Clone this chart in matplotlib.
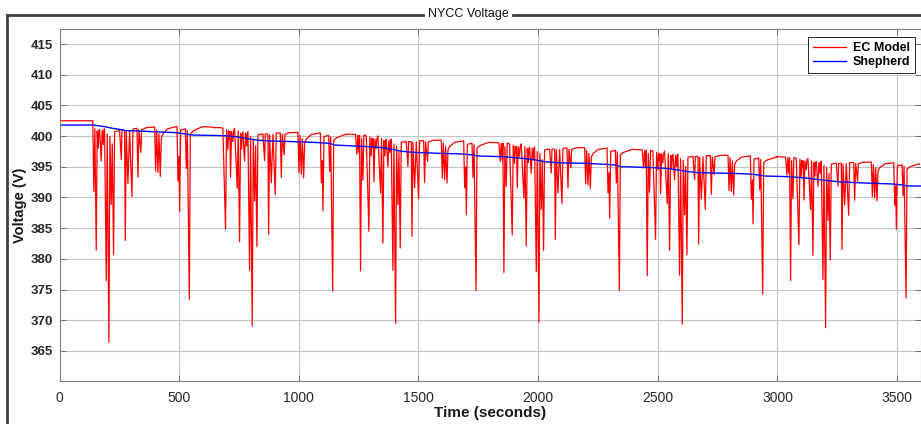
import matplotlib
matplotlib.use('Agg')
import matplotlib.pyplot as plt
from matplotlib.lines import Line2D

plt.rcParams['font.family'] = ['Liberation Sans', 'DejaVu Sans']

# one NYCC drive cycle: time offset (s) and drop below the resting voltage (V)
cycle_offset = [0, 39, 44.6, 48.8, 53, 55.8, 60, 64.2, 69.7, 73.9, 83.7, 94.8, 99, 104.6, 107.4,
                110.2, 113, 115.8, 120, 125, 128, 132.5, 143.7, 147.8, 153.4, 157.6, 162, 164.5,
                167.4, 174.3, 178.5, 183, 185.5, 188.3, 195.3, 199.4, 206.4, 210.6, 216.2, 220.4,
                225.9, 230.1, 251, 258, 261, 272, 274.8, 279, 286, 292.9, 302.6, 306.8, 323.6,
                327.8, 331.9, 340, 343, 362.6, 397.5, 401.7, 405.9, 411.4, 415.6, 421.2, 425.4,
                432.4, 453.3, 491, 495.1, 499.3, 502.1, 506.3, 525.8, 530, 534.2, 542.5, 546.7,
                557.9, 585.8, 599]
cycle_drop = [0, 0, 3.05, 0.07, 2.76, 0.05, 21.1, 0.55, 7.04, 0, 0.1, 14.9, 0.25, 3.2, 0.4,
              1.6, 0.5, 7.2, 0.5, 2.0, 0.5, 0, 8.8, 0.4, 16.6, 0.7, 3.0, 0.6,
              0.5, 4.7, 0.6, 2.5, 0.6, 0.4, 20.7, 1.1, 28.9, 1.4, 10.5, 2.4,
              17.2, 0.8, 0.6, 4.5, 0.6, 0.6, 15.3, 0.7, 7.7, 0.6, 9.4, 0.4, 0.3,
              6.8, 0.5, 3.5, 0.5, 0.2, 0.1, 6.0, 0.5, 6.2, 1.0, 6.7, 1.6,
              1.0, 0.3, 0, 7.3, 4.0, 11.4, 0.5, 0.3, 5.6, 0.5, 23.1, 1.0,
              0.6, 0.15, 0]

# the six repetitions
cycle_start = [0, 599, 1198, 1797, 2396, 2995]
top_start = [401.75, 401.55, 400.34, 398.98, 397.84, 396.65]
top_end = [401.53, 400.29, 398.98, 397.84, 396.54, 395.46]
depth = [1.22, 1.11, 1.05, 1.0, 0.97, 0.95]
first_dip = [140, 88, 0, 0, 0, 0]

idle_t = [0, 139]
idle_v = [402.5, 402.5]

shep_t = [0, 139, 188, 223, 251, 279, 335, 391, 488, 530, 551,
          689, 738, 793, 821, 877, 989, 1086, 1128, 1149,
          1288, 1336, 1392, 1420, 1476, 1587, 1685, 1727, 1748,
          1851, 1934, 1990, 2025, 2074, 2199, 2283, 2325, 2346,
          2449, 2532, 2588, 2623, 2672, 2797, 2881, 2923, 2944,
          3048, 3131, 3187, 3222, 3271, 3396, 3480, 3522, 3543, 3600]
shep_v = [401.81, 401.81, 401.54, 401.26, 401.1, 400.88, 400.83, 400.72, 400.56, 400.34, 400.18,
          400.07, 399.9, 399.53, 399.36, 399.2, 399.09, 398.93, 398.82, 398.55,
          398.28, 398.17, 397.84, 397.57, 397.36, 397.19, 397.08, 396.92, 396.76,
          396.65, 396.38, 396.11, 395.84, 395.67, 395.56, 395.4, 395.29, 395.02,
          394.91, 394.75, 394.48, 394.21, 394.04, 393.94, 393.83, 393.66, 393.5,
          393.39, 393.12, 392.85, 392.69, 392.52, 392.31, 392.2, 392.03, 391.87, 391.87]

ec_t = list(idle_t)
ec_v = list(idle_v)
for k in range(len(cycle_start)):
    for off, drop in zip(cycle_offset, cycle_drop):
        if k == 0 and off < first_dip[0]:
            continue
        if off < first_dip[k] and drop > 0.3:
            continue
        top = top_start[k] + (top_end[k] - top_start[k]) * off / 599
        ec_t.append(cycle_start[k] + off)
        ec_v.append(top - drop * depth[k])

W, H = 921, 424
fig = plt.figure(figsize=(W / 100, H / 100), dpi=100)
ax = fig.add_axes([59.5 / W, 1 - 381 / H, (W - 59.5) / W, (381 - 29) / H])

ax.plot(ec_t, ec_v, color='#ff0000', lw=0.9, label='EC Model')
ax.plot(shep_t, shep_v, color='#0000ff', lw=1.0, label='Shepherd')

ax.set_xlim(0, 3600)
ax.set_ylim(360.1, 417.45)
ax.set_xticks(range(0, 3501, 500))
ax.set_yticks(range(365, 416, 5))
ax.grid(True, color='#c4c4c4', lw=0.8)
ax.set_axisbelow(True)
for s in ax.spines.values():
    s.set_color('#808080')
    s.set_linewidth(0.8)
ax.tick_params(direction='in', length=4, width=0.6, color='#606060', top=True, right=True,
               labelsize=9.5)
ax.tick_params(axis='y', pad=4.5)
ax.tick_params(axis='x', pad=7)
for lbl in ax.get_yticklabels():
    lbl.set_fontweight('bold')
    lbl.set_color('#262626')
for lbl in ax.get_xticklabels():
    lbl.set_color('#262626')
    lbl.set_fontsize(10)

ax.set_xlabel('Time (seconds)', fontsize=11, fontweight='bold', labelpad=1, color='#1a1a1a')
ax.set_ylabel('Voltage (V)', fontsize=10.5, fontweight='bold', labelpad=3, color='#1a1a1a')

leg = ax.legend(loc='upper right', bbox_to_anchor=(1 - 6 / (W - 59.5), 1 - 8 / 352),
                borderaxespad=0, fancybox=False, framealpha=1, edgecolor='#262626',
                prop={'weight': 'bold', 'size': 9}, handlelength=2.7, borderpad=0.4,
                labelspacing=0.15, handletextpad=0.5)
leg.get_frame().set_linewidth(0.7)

# panel border with title, like a MATLAB uipanel
py = 1 - 14.5 / H
fig.add_artist(Line2D([6.5 / W, 423 / W], [py, py], color='#404040', lw=2))
fig.add_artist(Line2D([513 / W, 1], [py, py], color='#404040', lw=2))
fig.add_artist(Line2D([6.5 / W, 6.5 / W], [0, py], color='#404040', lw=2))
fig.text(468 / W, py, 'NYCC Voltage', ha='center', va='center', fontsize=9, color='#111111')

fig.savefig('out.png', dpi=100)
